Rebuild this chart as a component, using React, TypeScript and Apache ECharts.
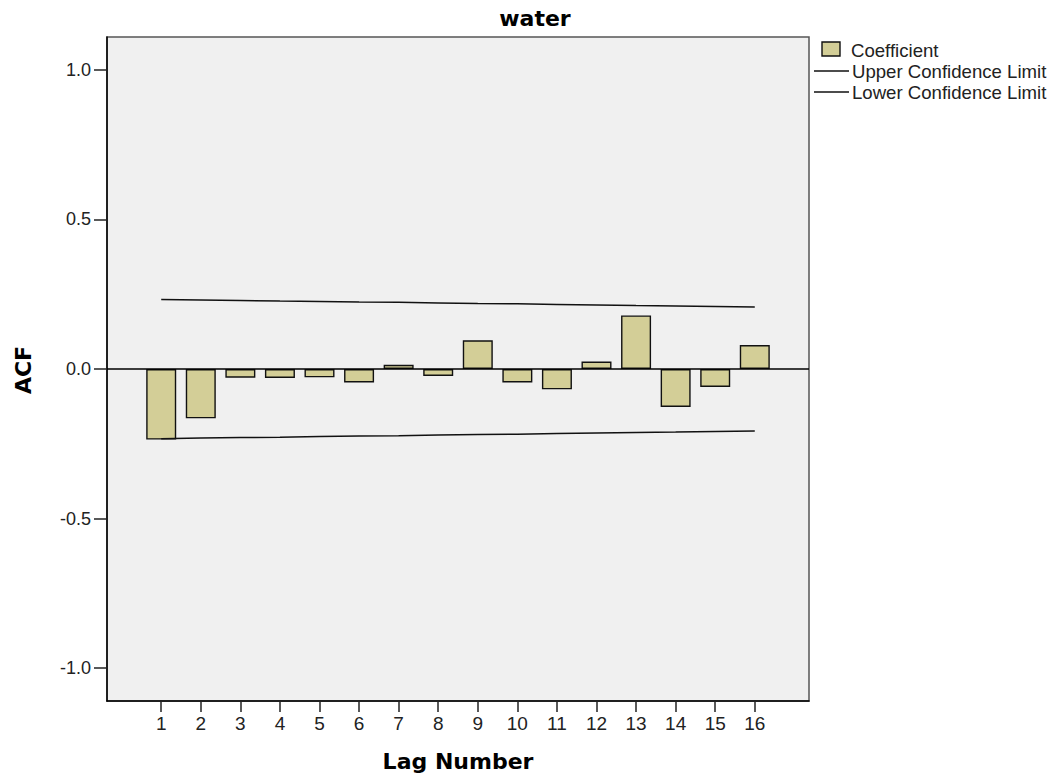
import React, { useEffect, useRef } from "react";
import * as echarts from "echarts";

const lags = [1, 2, 3, 4, 5, 6, 7, 8, 9, 10, 11, 12, 13, 14, 15, 16];
const coefficient = [-0.236, -0.165, -0.029, -0.030, -0.028, -0.045, 0.014, -0.023, 0.096, -0.045, -0.068, 0.025, 0.179, -0.127, -0.060, 0.080];
const upperLimit = [0.232, 0.231, 0.229, 0.227, 0.226, 0.224, 0.223, 0.221, 0.219, 0.218, 0.216, 0.214, 0.212, 0.211, 0.209, 0.207];
const lowerLimit = [-0.233, -0.231, -0.229, -0.228, -0.226, -0.224, -0.223, -0.221, -0.219, -0.218, -0.216, -0.214, -0.212, -0.211, -0.209, -0.207];
const yTicks = [-1, -0.5, 0, 0.5, 1];

const BAR = "#d3ce97";
const SANS = "Liberation Sans, Arial, sans-serif";
const BOLD = "DejaVu Sans, Verdana, sans-serif";

export default function App() {
  const ref = useRef<HTMLDivElement>(null);
  useEffect(() => {
    if (!ref.current) return;
    const chart = echarts.init(ref.current, undefined, { renderer: "svg" });
    chart.setOption({
      animation: false,
      backgroundColor: "#ffffff",
      grid: {
        left: 107,
        right: 253,
        top: 37,
        bottom: 82,
        show: true,
        backgroundColor: "#f0f0f0",
        borderColor: "#555",
        borderWidth: 1.5,
      },
      xAxis: {
        type: "value",
        min: -0.37,
        max: 17.37,
        splitLine: { show: false },
        axisLine: { show: true, onZero: false, lineStyle: { color: "#000", width: 1.5 } },
        axisTick: { show: true, length: 11, customValues: lags, lineStyle: { color: "#222", width: 1.5 } },
        axisLabel: {
          customValues: lags,
          margin: 13,
          fontSize: 19,
          fontFamily: SANS,
          color: "#222",
          formatter: (v: number) => String(v),
        },
      },
      yAxis: {
        type: "value",
        min: -1.11,
        max: 1.11,
        splitLine: { show: false },
        axisLine: { show: true, onZero: false, lineStyle: { color: "#000", width: 1.5 } },
        axisTick: { show: true, length: 13, customValues: yTicks, lineStyle: { color: "#222", width: 1.5 } },
        axisLabel: {
          customValues: yTicks,
          margin: 16,
          fontSize: 18,
          fontFamily: SANS,
          color: "#222",
          formatter: (v: number) => v.toFixed(1),
        },
      },
      series: [
        {
          name: "Coefficient",
          type: "bar",
          barWidth: 30,
          data: lags.map((l, i) => [l, coefficient[i]]),
          itemStyle: { color: BAR, borderColor: "#111", borderWidth: 1.4 },
          markLine: {
            silent: true,
            symbol: ["none", "none"],
            label: { show: false },
            lineStyle: { color: "#000", width: 1.5, type: "solid" },
            data: [{ yAxis: 0 }],
          },
          z: 2,
        },
        {
          name: "Upper Confidence Limit",
          type: "line",
          symbol: "none",
          data: lags.map((l, i) => [l, upperLimit[i]]),
          lineStyle: { color: "#111", width: 1.5 },
          z: 3,
        },
        {
          name: "Lower Confidence Limit",
          type: "line",
          symbol: "none",
          data: lags.map((l, i) => [l, lowerLimit[i]]),
          lineStyle: { color: "#111", width: 1.5 },
          z: 3,
        },
      ],
      graphic: [
        {
          type: "text",
          x: 535,
          y: 18,
          style: { text: "water", font: `bold 22px ${BOLD}`, fill: "#000", textAlign: "center", textVerticalAlign: "middle" },
        },
        {
          type: "text",
          x: 458,
          y: 761,
          style: { text: "Lag Number", font: `bold 22px ${BOLD}`, fill: "#000", textAlign: "center", textVerticalAlign: "middle" },
        },
        {
          type: "text",
          x: 23,
          y: 370,
          rotation: Math.PI / 2,
          style: { text: "ACF", font: `bold 22px ${BOLD}`, fill: "#000", textAlign: "center", textVerticalAlign: "middle" },
        },
        {
          type: "rect",
          shape: { x: 822, y: 42, width: 18, height: 14 },
          style: { fill: BAR, stroke: "#111", lineWidth: 1.4 },
        },
        {
          type: "text",
          x: 851,
          y: 50,
          style: { text: "Coefficient", font: `18.6px ${SANS}`, fill: "#222", textVerticalAlign: "middle" },
        },
        {
          type: "line",
          shape: { x1: 814, y1: 71, x2: 849, y2: 71 },
          style: { stroke: "#111", lineWidth: 1.5 },
        },
        {
          type: "text",
          x: 852,
          y: 71.5,
          style: { text: "Upper Confidence Limit", font: `18.6px ${SANS}`, fill: "#222", textVerticalAlign: "middle" },
        },
        {
          type: "line",
          shape: { x1: 814, y1: 92, x2: 849, y2: 92 },
          style: { stroke: "#111", lineWidth: 1.5 },
        },
        {
          type: "text",
          x: 852,
          y: 92.5,
          style: { text: "Lower Confidence Limit", font: `18.6px ${SANS}`, fill: "#222", textVerticalAlign: "middle" },
        },
      ],
    });
    return () => chart.dispose();
  }, []);
  return (
    <div
      ref={ref}
      style={{ position: "absolute", left: 0, top: 0, width: 1062, height: 783 }}
    />
  );
}
